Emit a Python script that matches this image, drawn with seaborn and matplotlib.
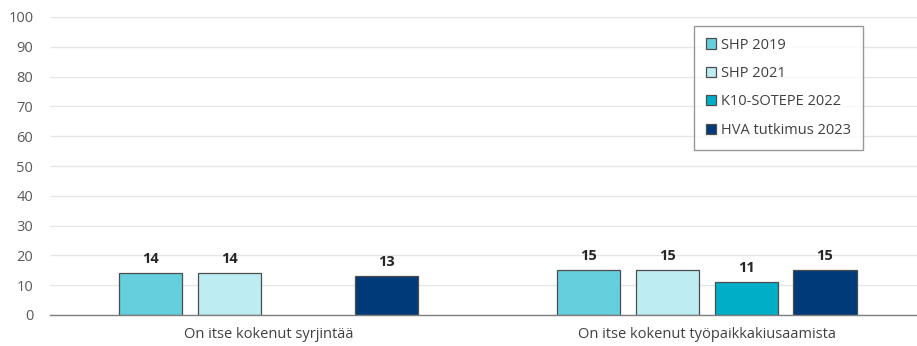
import numpy as np
import pandas as pd
import matplotlib
matplotlib.use("Agg")
import matplotlib.pyplot as plt
import seaborn as sns

categories = ["On itse kokenut syrjintää", "On itse kokenut työpaikkakiusaamista"]
series = ["SHP 2019", "SHP 2021", "K10-SOTEPE 2022", "HVA tutkimus 2023"]
shp_2019 = [14, 15]
shp_2021 = [14, 15]
k10_sotepe_2022 = [np.nan, 11]
hva_2023 = [13, 15]
colors = ["#66CFDD", "#BDEDF2", "#00AFC7", "#003A78"]
y_ticks = list(range(0, 101, 10))

rows = []
for name, vals in zip(series, [shp_2019, shp_2021, k10_sotepe_2022, hva_2023]):
    for cat, v in zip(categories, vals):
        rows.append({"category": cat, "series": name, "value": v})
df = pd.DataFrame(rows)

sns.set_theme(style="white")
plt.rcParams["font.family"] = ["Open Sans", "DejaVu Sans"]

fig = plt.figure(figsize=(9.17, 3.46), dpi=100)
ax = fig.add_axes([50 / 917, 31 / 346, 867 / 917, 298 / 346])

sns.barplot(data=df, x="category", y="value", hue="series", hue_order=series,
            palette=colors, saturation=1, width=0.72, gap=0.2,
            edgecolor="#4d4d4d", linewidth=0.9, ax=ax, legend=True)

for cont in ax.containers:
    labels = ["" if np.isnan(v) else f"{v:.0f}" for v in cont.datavalues]
    ax.bar_label(cont, labels=labels, padding=5, fontsize=10.5,
                 fontweight="bold", color="#262626")

ax.set_ylim(0, 100)
ax.set_yticks(y_ticks)
ax.set_xlim(-0.499, 1.48)
ax.yaxis.grid(True, color="#e6e6e6", linewidth=1)
ax.set_axisbelow(True)
for s in ["left", "right", "top"]:
    ax.spines[s].set_visible(False)
ax.spines["bottom"].set_color("#7f7f7f")
ax.spines["bottom"].set_linewidth(1)
ax.tick_params(axis="y", length=0, labelsize=10.5, labelcolor="#595959", pad=12)
ax.tick_params(axis="x", length=0, labelsize=10.5, labelcolor="#404040", pad=9)
ax.set_xlabel("")
ax.set_ylabel("")

handles, labels = ax.get_legend_handles_labels()
ax.legend(handles, labels, loc="upper left", bbox_to_anchor=(694 / 917, 1 - 26 / 346),
          bbox_transform=fig.transFigure, frameon=True, fancybox=False,
          edgecolor="#7f7f7f", fontsize=10.5, handlelength=0.7, handleheight=0.7,
          handletextpad=0.35, labelspacing=0.92, borderpad=0.8, borderaxespad=0,
          labelcolor="#404040")
ax.get_legend().get_frame().set_linewidth(1)

fig.savefig("out.png", dpi=100)
